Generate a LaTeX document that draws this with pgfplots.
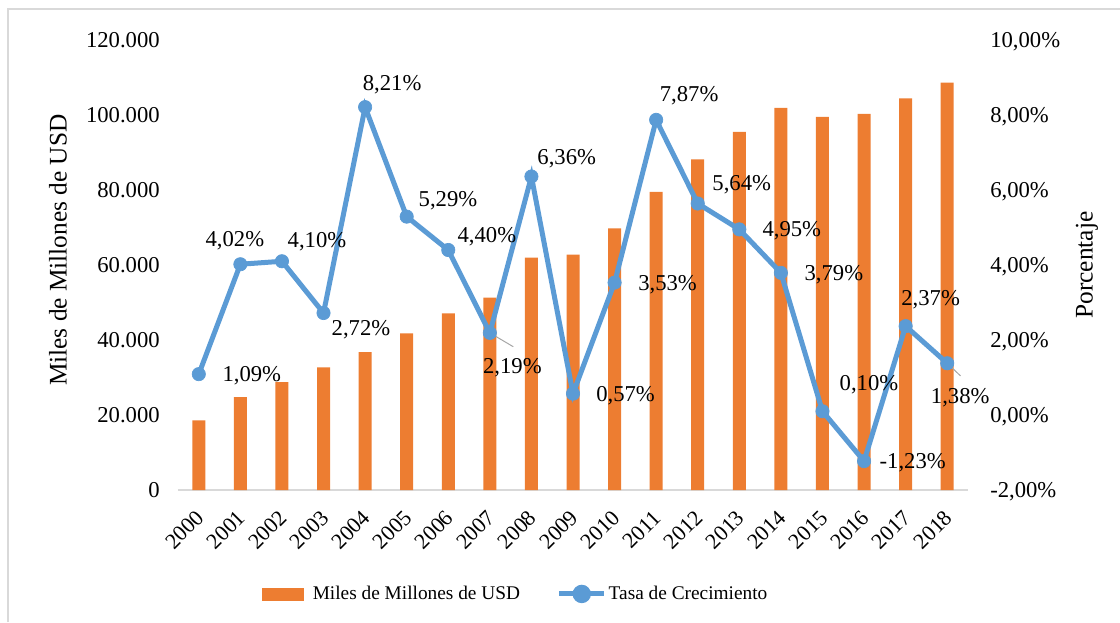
\documentclass[border=0pt]{standalone}
\usepackage{fontspec}
\setmainfont{Liberation Serif}
\usepackage{pgfplots}
\pgfplotsset{compat=1.18}
\usepackage{pgfplotstable}
\definecolor{barorange}{HTML}{ED7D31}
\definecolor{lineblue}{HTML}{5B9BD5}
\definecolor{axgray}{HTML}{D9D9D9}
\definecolor{leadgray}{HTML}{A6A6A6}

\pgfplotstableread{
x val
0 18600
1 24800
2 28800
3 32700
4 36800
5 41800
6 47100
7 51300
8 62000
9 62800
10 69800
11 79500
12 88200
13 95500
14 101900
15 99500
16 100300
17 104400
18 108600
}\bardata

\pgfplotstableread{
x rate
0 1.09
1 4.02
2 4.10
3 2.72
4 8.21
5 5.29
6 4.40
7 2.19
8 6.36
9 0.57
10 3.53
11 7.87
12 5.64
13 4.95
14 3.79
15 0.10
16 -1.23
17 2.37
18 1.38
}\ratedata

\newcommand{\tfont}{\fontsize{17}{20}\selectfont}
\pgfplotsset{
  common/.style={
    width=592.5pt, height=337.5pt, scale only axis,
    xmin=-0.5, xmax=18.5,
    clip=false,
    major tick length=0pt, minor tick num=0,
    /pgf/number format/assume math mode=true,
  },
}
\tikzset{lbl/.style={font=\tfont, anchor=center, inner sep=0pt, text depth=0pt}}

\begin{document}
\begin{tikzpicture}
\useasboundingbox (-133.5pt,-99pt) rectangle (706.5pt,367.5pt);
\draw[axgray, line width=1.1pt] (-127.5pt,-99pt) -- (-127.5pt,360.75pt) -- (706.5pt,360.75pt);

\begin{axis}[common,
  ymin=0, ymax=120000,
  ytick={0,20000,40000,60000,80000,100000,120000},
  scaled y ticks=false,
  yticklabel={\pgfmathprintnumber[fixed,1000 sep={.},precision=0]{\tick}},
  axis x line*=bottom, axis y line*=left,
  x axis line style={-, draw=axgray, line width=1.1pt},
  y axis line style={draw=none},
  xtick={0,...,18},
  xticklabels={2000,2001,2002,2003,2004,2005,2006,2007,2008,2009,2010,2011,2012,2013,2014,2015,2016,2017,2018},
  xticklabel style={yshift=-14pt, xshift=-3pt, rotate=45, anchor=north east, font=\fontsize{16.5}{19}\selectfont, inner sep=0pt},
  yticklabel style={anchor=east, inner sep=0pt, xshift=-13.5pt, text depth=0pt, font=\tfont},
  ylabel={Miles de Millones de USD},
  every axis y label/.style={at={(axis description cs:-0.152,0.533)}, rotate=90, anchor=center, font=\fontsize{19}{22}\selectfont},
  ybar, bar width=9.75pt, bar shift=0pt,
]
\addplot[fill=barorange, draw=none] table[x=x, y=val] {\bardata};
\end{axis}

\begin{axis}[common,
  ymin=-2, ymax=10,
  ytick={-2,0,2,4,6,8,10},
  axis y line*=right, axis x line=none,
  y axis line style={draw=none},
  yticklabel={\pgfmathprintnumber[fixed,fixed zerofill,precision=2,use comma]{\tick}\%},
  yticklabel style={anchor=west, inner sep=0pt, xshift=16.5pt, text depth=0pt, font=\tfont},
  ylabel={Porcentaje},
  every axis y label/.style={at={(axis description cs:1.1506,0.5)}, rotate=90, anchor=center, font=\fontsize{19}{22}\selectfont},
  legend columns=2,
  legend style={draw=none, fill=none, at={(axis description cs:0.1063,-0.231)}, anchor=west, inner sep=0pt,
    font=\fontsize{14.5}{17}\selectfont, nodes={inner sep=0pt},
    /tikz/every even column/.append style={column sep=27.5pt}},
]
\addlegendimage{legend image code/.code={
  \fill[barorange] (0pt,-4.5pt) rectangle (30.75pt,4.5pt);
  \path (37.5pt,0pt);}}
\addlegendentry{Miles de Millones de USD}

\draw[leadgray, line width=0.75pt] (axis cs:7,2.19) -- ++(17.6pt,-10.4pt);
\draw[leadgray, line width=0.75pt] (axis cs:18,1.38) -- ++(10pt,-9.5pt);

\addplot[lineblue, line width=3.75pt, mark=*, mark size=5pt,
  mark options={fill=lineblue, draw=lineblue, line width=0.5pt},
  legend image code/.code={
    \draw[lineblue, line width=3.75pt] (0pt,0pt) -- (33.75pt,0pt);
    \fill[lineblue] (16.9pt,0pt) circle (5pt);
    \path (35.25pt,0pt);}
  ] table[x=x, y=rate] {\ratedata};
\addlegendentry{Tasa de Crecimiento}

\node[lbl] at (axis cs:0,1.09) [xshift=39.75pt] {1,09\%};
\node[lbl] at (axis cs:1,4.02) [xshift=-4.1pt, yshift=18.75pt] {4,02\%};
\node[lbl] at (axis cs:2,4.10) [xshift=26.25pt, yshift=15.75pt] {4,10\%};
\node[lbl] at (axis cs:3,2.72) [xshift=28.1pt, yshift=-10.9pt] {2,72\%};
\node[lbl] at (axis cs:4,8.21) [xshift=20.25pt, yshift=18.2pt] {8,21\%};
\node[lbl] at (axis cs:5,5.29) [xshift=31pt, yshift=13.35pt] {5,29\%};
\node[lbl] at (axis cs:6,4.40) [xshift=29pt, yshift=11.5pt] {4,40\%};
\node[lbl] at (axis cs:7,2.19) [xshift=16.9pt, yshift=-24.75pt] {2,19\%};
\node[lbl] at (axis cs:8,6.36) [xshift=26.5pt, yshift=14.85pt] {6,36\%};
\node[lbl] at (axis cs:9,0.57) [xshift=39.4pt] {0,57\%};
\node[lbl] at (axis cs:10,3.53) [xshift=39.75pt] {3,53\%};
\node[lbl] at (axis cs:11,7.87) [xshift=24.75pt, yshift=19.5pt] {7,87\%};
\node[lbl] at (axis cs:12,5.64) [xshift=33pt, yshift=15.75pt] {5,64\%};
\node[lbl] at (axis cs:13,4.95) [xshift=39.4pt] {4,95\%};
\node[lbl] at (axis cs:14,3.79) [xshift=39.75pt] {3,79\%};
\node[lbl] at (axis cs:15,0.10) [xshift=34.9pt, yshift=21.4pt] {0,10\%};
\node[lbl] at (axis cs:16,-1.23) [xshift=36.5pt] {-1,23\%};
\node[lbl] at (axis cs:17,2.37) [xshift=18.75pt, yshift=21pt] {2,37\%};
\node[lbl] at (axis cs:18,1.38) [xshift=9.75pt, yshift=-24.75pt] {1,38\%};
\end{axis}
\end{tikzpicture}
\end{document}
